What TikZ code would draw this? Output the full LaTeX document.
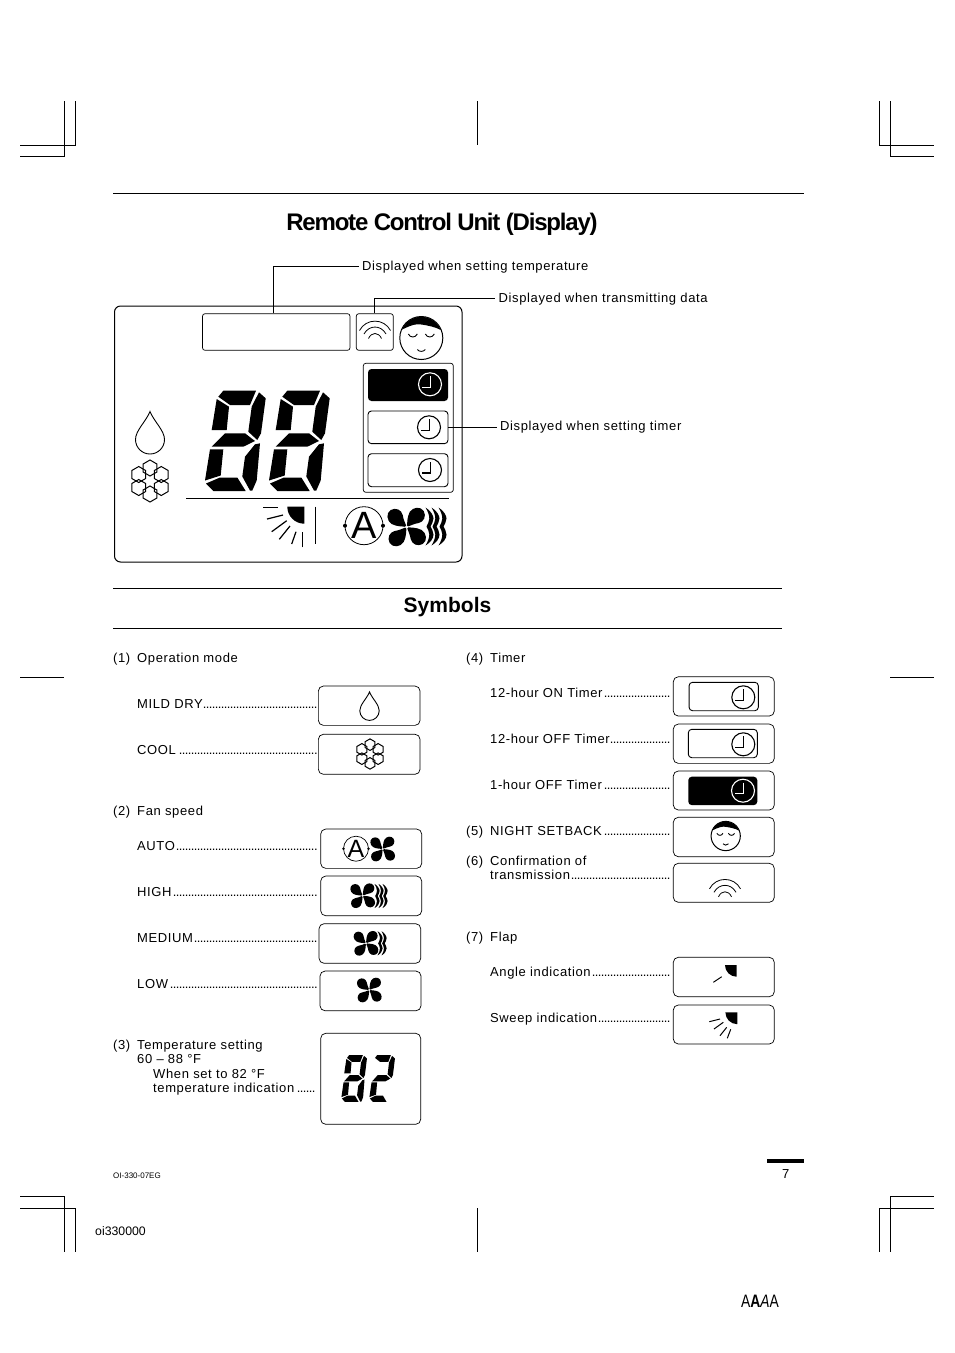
\documentclass[tikz,border=0pt]{standalone}
\usepackage{fontspec}
\setmainfont{Liberation Sans}
\newfontfamily\labelfont[LetterSpace=4.8]{Liberation Sans}
\newfontfamily\titlefont[LetterSpace=-5]{Liberation Sans}

% dotted leader up to a fixed width
\newcommand{\dotrow}[2]{\makebox[#1pt][l]{#2\leaders\hbox to 3pt{\hss.\hss}\hfill}}
\newcommand{\numrow}[2]{\makebox[24pt][l]{#1}#2}

% display segments, in a 63 x 100 cell
\newcommand{\segtop}{\fill (19.3,0.2) -- (52,0.2) -- (46,14.5) -- (26,14.5) -- (14.3,6.2) -- cycle;}
\newcommand{\segul}{\fill (12.7,8.5) -- (25,16.2) -- (22.7,39.5) -- (7.7,39.5) -- cycle;}
\newcommand{\segur}{\fill (55,1.8) -- (61.7,7.8) -- (57,42.8) -- (53.3,49.5) -- (44.3,41.2) -- (47.7,16.2) -- cycle;}
\newcommand{\segmid}{\fill (21,42.8) -- (41,42.8) -- (51,50.5) -- (39.3,56.2) -- (7.7,56.2) -- cycle;}
\newcommand{\segll}{\fill (6,58.8) -- (19.3,58.8) -- (16.7,85) -- (1,90) -- cycle;}
\newcommand{\seglr}{\fill (51,53.8) -- (56,52.8) -- (52.7,90) -- (48.3,100) -- (46,100) -- (38.3,86) -- (41,66.2) -- cycle;}
\newcommand{\segbot}{\fill (16,87) -- (33.3,87) -- (41.7,100.5) -- (9.3,100.5) -- (2,93) -- cycle;}

\tikzset{
    iconbox/.style={draw, rounded corners=5pt, line width=0.7pt, inner sep=0pt},
    innerbox/.style={draw, rounded corners=3.5pt, line width=0.9pt, inner sep=0pt},
    blackbox/.style={fill=black, rounded corners=3.5pt, inner sep=0pt},
    labeltext/.style={font=\labelfont\fontsize{13}{14}\selectfont, anchor=base west, inner sep=0pt},
    leaderlabel/.style={font=\labelfont\fontsize{13}{14}\selectfont, anchor=west, inner sep=3.5pt, text height=12pt, text depth=4pt},
    rule/.style={line width=0.8pt},
    cropmark/.style={line width=0.8pt},
    drop/.pic={
        \draw[line width=0.9pt] (0,-28) .. controls (-4,-18) and (-14.5,-9) .. (-14.5,0)
            arc[start angle=180, end angle=0, radius=14.5]
            .. controls (14.5,-9) and (4,-18) .. (0,-28) -- cycle;
    },
    snowflake/.pic={
        \foreach \a in {30,90,150,210,270,330} {
            \begin{scope}[shift={(\a:13)}, rotate=\a]
                \draw[line width=1pt] (0:8) -- (60:8) -- (120:8) -- (180:8) -- (240:8) -- (300:8) -- cycle;
            \end{scope}
        }
    },
    fanblades/.pic={
        \foreach \a in {0,90,180,270} {
            \fill[rotate=\a] (0,0) .. controls (-5,-1) and (-9,0) .. (-15,-3)
                .. controls (-20,-6) and (-21,-14) .. (-16,-17)
                .. controls (-11,-20) and (-5,-17) .. (-4,-12)
                .. controls (-3.5,-8) and (-1.5,-4) .. (0,0) -- cycle;
        }
        \fill[white] (0,0) circle (1.8);
    },
    crescent/.pic={
        \fill (0,-19) .. controls (5,-16) and (8,-11) .. (8,-8) .. controls (8,-5) and (6,-2) .. (5,0)
            .. controls (6,2) and (8,5) .. (8,8) .. controls (8,12) and (5,16) .. (0,19)
            .. controls (2.5,15) and (3.8,11) .. (3.8,8) .. controls (3.8,5) and (2,2) .. (1,0)
            .. controls (2,-2) and (3.8,-5) .. (3.8,-8) .. controls (3.8,-11) and (2.5,-15) .. (0,-19) -- cycle;
    },
    clockface/.pic={
        \draw[line width=1.1pt] (0,0) circle (11.5);
        \draw[line width=1.1pt] (0.5,-8) -- (0.5,3) -- (-8,3);
    },
    sleeper/.pic={
        \fill (19.5,-8) arc[start angle=-22, end angle=-157, radius=21.1]
            .. controls (-10,-13) and (-5,-14.5) .. (0,-13.5)
            .. controls (7,-12.5) and (14,-11) .. (19.5,-8) -- cycle;
        \draw[line width=1pt] (0,0) circle (21.5);
        \draw[line width=0.9pt] (-13,-4) .. controls (-11,0) and (-6,0) .. (-4,-4);
        \draw[line width=0.9pt] (4,-4) .. controls (6,0) and (11,0) .. (13,-4);
        \draw[line width=0.9pt] (-4,11.5) .. controls (-2,14) and (2,14) .. (4,11.5);
    },
    signalwaves/.pic={
        \draw[line width=0.8pt] (-15.5,9.5) .. controls (-9,-3) and (9,-3) .. (15.5,9.5);
        \draw[line width=0.8pt] (-11,13) .. controls (-6,3.7) and (6,3.7) .. (11,13);
        \draw[line width=0.8pt] (-6.5,17.5) .. controls (-3.5,10.8) and (3.5,10.8) .. (6.5,17.5);
    },
    flapvane/.pic={
        \fill (0,0) -- (-17,0) arc[start angle=180, end angle=90, radius=17] -- cycle;
    },
    digiteight/.pic={\segtop \segul \segur \segmid \segll \seglr \segbot},
    digittwo/.pic={\segtop \segur \segmid \segll \segbot}
}

\begin{document}
\begin{tikzpicture}[x=1pt, y=-1pt]
    \useasboundingbox (0,0) rectangle (954,1353);

    % crop marks
    \draw[cropmark] (20,145) -- (75.5,145) -- (75.5,101);
    \draw[cropmark] (20,156.5) -- (64,156.5) -- (64,101);
    \draw[cropmark] (933.5,145) -- (879.5,145) -- (879.5,101);
    \draw[cropmark] (933.5,156.5) -- (890.5,156.5) -- (890.5,101);
    \draw[cropmark] (20,1196.5) -- (64,1196.5) -- (64,1252);
    \draw[cropmark] (20,1208.5) -- (75.5,1208.5) -- (75.5,1252);
    \draw[cropmark] (933.5,1196.5) -- (890.5,1196.5) -- (890.5,1252);
    \draw[cropmark] (933.5,1208.5) -- (879.5,1208.5) -- (879.5,1252);
    \draw[cropmark] (477.5,101) -- (477.5,145);
    \draw[cropmark] (477.5,1208) -- (477.5,1252);
    \draw[cropmark] (20,677) -- (64,677);
    \draw[cropmark] (890,677) -- (934,677);

    % headings
    \draw[rule] (113,193) -- (804,193);
    \node[anchor=base, inner sep=0pt, font=\titlefont\bfseries\fontsize{24}{26}\selectfont] (title) at (442,230) {Remote Control Unit (Display)};
    \draw[rule] (113,588.5) -- (782,588.5);
    \node[anchor=base, inner sep=0pt, font=\bfseries\fontsize{21}{22}\selectfont] (symbolstitle) at (447.5,612) {Symbols};
    \draw[rule] (113,628.5) -- (782,628.5);

    % display panel
    \node[draw, rounded corners=6pt, line width=1pt, inner sep=0pt, minimum width=347.5pt, minimum height=256pt] (panel) at (288.25,434) {};
    \node[iconbox, rounded corners=2.5pt, minimum width=147.5pt, minimum height=36.6pt] (tempbox) at (276.25,332) {};
    \node[iconbox, rounded corners=2.5pt, minimum width=37pt, minimum height=36.6pt] (wavebox) at (374.8,332) {};
    \node[iconbox, rounded corners=2.5pt, minimum width=90pt, minimum height=129pt] (timergroup) at (408.3,427.8) {};
    \node[blackbox, minimum width=80pt, minimum height=32pt] (timertop) at (408,385) {};
    \node[innerbox, minimum width=80pt, minimum height=32.7pt] (timermid) at (408,427.3) {};
    \node[innerbox, minimum width=80pt, minimum height=33pt] (timerlow) at (408,470.2) {};

    \node[leaderlabel] (templabel) at (358.5,266) {Displayed when setting temperature};
    \node[leaderlabel] (wavelabel) at (495,298) {Displayed when transmitting data};
    \node[leaderlabel, text height=9pt, text depth=3pt] (timerlabel) at (496.5,427.3) {Displayed when setting timer};
    \draw[line width=0.8pt] (tempbox.99.3) |- (templabel.west);
    \draw[line width=0.8pt] (wavebox.north) |- (wavelabel.west);
    \draw[line width=0.8pt] (timermid.east) -- (timerlabel.west);

    \pic at (375,321) {signalwaves};
    \pic at (421.3,338) {sleeper};
    \pic[color=white] at (430,384.3) {clockface};
    \pic at (429,427.3) {clockface};
    \pic at (430,470) {clockface};
    \pic at (204,390.5) {digiteight};
    \pic at (268,390.5) {digiteight};
    \pic at (150,439.5) {drop};
    \pic at (150,481) {snowflake};
    \draw[line width=1pt] (186,498) -- (449,498);

    % flap on the panel
    \pic at (304.3,506.7) {flapvane};
    \draw[line width=1.2pt] (263.3,507.3) -- (278.3,507.3);
    \draw[line width=1.2pt] (267,519) -- (283,515);
    \draw[line width=1.2pt] (271.7,531.7) -- (286.7,520.7);
    \draw[line width=1.2pt] (279.3,539.3) -- (290,526);
    \draw[line width=1.2pt] (291.7,544) -- (296,531.7);
    \draw[line width=1.2pt] (302.7,547.3) -- (302.7,531.7);
    \draw[line width=0.9pt] (315.3,506.7) -- (315.3,544);

    % fan on the panel
    \draw[line width=0.8pt] (364,525.7) circle (19);
    \fill (345,525.7) circle (2);
    \fill (383,525.7) circle (2);
    \node[inner sep=0pt, font=\fontsize{38}{38}\selectfont] (autoletter) at (364,525.7) {A};
    \pic at (406.7,527) {fanblades};
    \pic at (425.5,526.5) {crescent};
    \pic at (431.5,526.5) {crescent};
    \pic at (438.5,526.5) {crescent};

    % (1) operation mode
    \node[labeltext] (opmode) at (113,662) {\numrow{(1)}{Operation mode}};
    \node[labeltext] (drylabel) at (137,708) {\dotrow{180}{MILD DRY}};
    \node[labeltext] (coollabel) at (137,754) {\dotrow{180}{COOL\kern1pt}};
    \node[iconbox, minimum width=101.7pt, minimum height=39.3pt] (drybox) at (369.2,705.7) {};
    \node[iconbox, minimum width=101.7pt, minimum height=40pt] (coolbox) at (369.2,754.3) {};
    \pic[scale=0.67] at (369.5,710.7) {drop};
    \pic[scale=0.72] at (370,754) {snowflake};

    % (2) fan speed
    \node[labeltext] (fanspeed) at (113,815) {\numrow{(2)}{Fan speed}};
    \node[labeltext] (autolabel) at (137,850) {\dotrow{180}{AUTO\kern1pt}};
    \node[labeltext] (highlabel) at (137,896) {\dotrow{180}{HIGH\kern1pt}};
    \node[labeltext] (mediumlabel) at (137,942) {\dotrow{180}{MEDIUM\kern1pt}};
    \node[labeltext] (lowlabel) at (137,988) {\dotrow{180}{LOW\kern1pt}};
    \node[iconbox, minimum width=101pt, minimum height=39.3pt] (autobox) at (371.2,848.7) {};
    \node[iconbox, minimum width=101pt, minimum height=39.7pt] (highbox) at (371.2,895.9) {};
    \node[iconbox, minimum width=101.7pt, minimum height=39.6pt] (mediumbox) at (369.9,943.5) {};
    \node[iconbox, minimum width=101pt, minimum height=39.7pt] (lowbox) at (370.5,990.9) {};
    \draw[line width=0.7pt] (356,848.7) circle (12.5);
    \fill (343.5,848.7) circle (1.3);
    \fill (368.5,848.7) circle (1.3);
    \node[inner sep=0pt, font=\fontsize{25}{25}\selectfont] (autosmall) at (356,848.7) {A};
    \pic[scale=0.64] at (382.7,849) {fanblades};
    \pic[scale=0.64] at (362.7,895.7) {fanblades};
    \pic[scale=0.64] at (374.5,896) {crescent};
    \pic[scale=0.64] at (378.5,896) {crescent};
    \pic[scale=0.64] at (382.5,896) {crescent};
    \pic[scale=0.64] at (366,943.3) {fanblades};
    \pic[scale=0.64] at (377.5,943.3) {crescent};
    \pic[scale=0.64] at (381.5,943.3) {crescent};
    \pic[scale=0.64] at (369.3,990) {fanblades};

    % (3) temperature
    \node[labeltext] (tempsetting) at (113,1049) {\numrow{(3)}{Temperature setting}};
    \node[labeltext] (temprange) at (137,1063) {60 – 88 °F};
    \node[labeltext] (tempwhen) at (153,1078) {When set to 82 °F};
    \node[labeltext] (tempind) at (153,1092) {\dotrow{164}{temperature indication\kern1pt}};
    \node[iconbox, minimum width=100pt, minimum height=91pt] (tempsmall) at (370.7,1078.8) {};
    \pic[xscale=0.42, yscale=0.467] at (341,1055) {digiteight};
    \pic[xscale=0.42, yscale=0.467] at (369,1055) {digittwo};

    % (4) timer
    \node[labeltext] (timerhead) at (466,662) {\numrow{(4)}{Timer}};
    \node[labeltext] (onlabel) at (490,697) {\dotrow{180}{12-hour ON Timer}};
    \node[labeltext] (offlabel) at (490,743) {\dotrow{180}{12-hour OFF Timer}};
    \node[labeltext] (hourlabel) at (490,789) {\dotrow{180}{1-hour OFF Timer}};
    \node[iconbox, minimum width=101pt, minimum height=39.3pt] (onbox) at (723.8,696.4) {};
    \node[iconbox, minimum width=101pt, minimum height=39.3pt] (offbox) at (723.8,743.7) {};
    \node[iconbox, minimum width=101pt, minimum height=39pt] (hourbox) at (723.8,790.5) {};
    \node[innerbox, minimum width=69.3pt, minimum height=28.4pt] (oninner) at (723.7,696.5) {};
    \node[innerbox, minimum width=69pt, minimum height=28.4pt] (offinner) at (722.8,743.5) {};
    \node[blackbox, minimum width=69pt, minimum height=28.4pt] (hourinner) at (722.8,790.9) {};
    \pic at (743.3,697.3) {clockface};
    \pic at (743.3,744.3) {clockface};
    \pic[color=white] at (743,790.7) {clockface};

    % (5) (6) night setback, transmission
    \node[labeltext] (nightlabel) at (466,835) {\numrow{(5)}{\dotrow{180}{NIGHT SETBACK\kern1pt}}};
    \node[labeltext] (conflabel) at (466,865) {\numrow{(6)}{Confirmation of}};
    \node[labeltext] (translabel) at (490,879) {\dotrow{180}{transmission\kern1pt}};
    \node[iconbox, minimum width=101pt, minimum height=39.4pt] (nightbox) at (723.8,837) {};
    \node[iconbox, minimum width=101pt, minimum height=39pt] (transbox) at (723.8,882.8) {};
    \pic[scale=0.68] at (725.7,836) {sleeper};
    \pic at (725,879.3) {signalwaves};

    % (7) flap
    \node[labeltext] (flaphead) at (466,941) {\numrow{(7)}{Flap}};
    \node[labeltext] (anglelabel) at (490,976) {\dotrow{180}{Angle indication\kern1pt}};
    \node[labeltext] (sweeplabel) at (490,1022) {\dotrow{180}{Sweep indication}};
    \node[iconbox, minimum width=101pt, minimum height=39.4pt] (anglebox) at (723.8,977) {};
    \node[iconbox, minimum width=101pt, minimum height=39pt] (sweepbox) at (723.8,1024.5) {};
    \pic[scale=0.69] at (736.7,965) {flapvane};
    \draw[line width=1pt] (713.3,982.3) -- (721.7,976.7);
    \pic[scale=0.7] at (737.3,1012.3) {flapvane};
    \draw[line width=1pt] (709.3,1021.7) -- (720,1019);
    \draw[line width=1pt] (714,1029) -- (723.3,1022.3);
    \draw[line width=1pt] (720,1035.7) -- (726.7,1027.3);
    \draw[line width=1pt] (727.3,1038.3) -- (730.7,1029.3);

    % page foot
    \node[anchor=base west, inner sep=0pt, font=\fontsize{8}{9}\selectfont] (docref) at (113,1178) {OI-330-07EG};
    \fill (767,1159) rectangle (804,1163);
    \node[anchor=base, inner sep=0pt, font=\labelfont\fontsize{13}{14}\selectfont] (pagenum) at (785.7,1178) {7};
    \node[anchor=base west, inner sep=0pt, font=\fontsize{12.3}{14}\selectfont] (filename) at (95,1235) {oi330000};
    \node[anchor=base west, inner sep=0pt, font=\fontsize{18}{18}\selectfont] (brand) at (741,1307) {\scalebox{0.77}[1]{A\textbf{A}\textit{A}A}};
\end{tikzpicture}
\end{document}
